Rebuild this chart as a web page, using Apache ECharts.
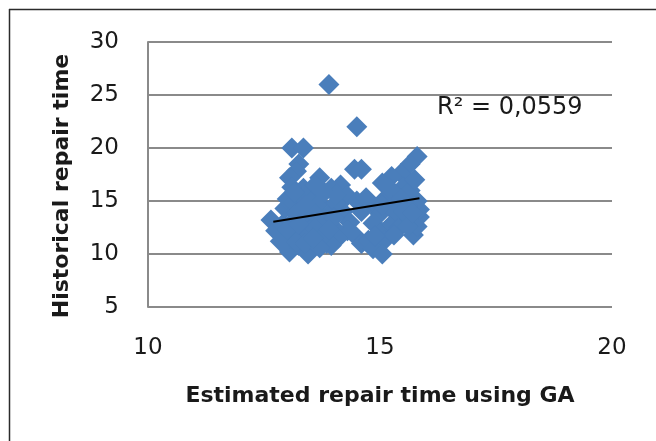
<!DOCTYPE html>
<html>
<head>
<meta charset="utf-8">
<script src="https://cdn.jsdelivr.net/npm/echarts@6/dist/echarts.min.js"></script>
<style>
html,body{margin:0;padding:0;background:#fff;}
#chart{width:656px;height:441px;}
</style>
</head>
<body>
<div id="chart"></div>
<script>
// Estimated repair time using GA (x) vs Historical repair time (y)
const xValues = [13.9,14.5,13.1,13.35,13.25,13.2,13.05,13.7,14.45,14.6,
  15.8,15.65,15.45,15.25,15.05,15.5,15.3,15.1,14.9,15.0,
  15.35,15.2,14.85,15.0,15.1,15.72,15.8,15.85,15.85,15.8,
  15.6,15.55,15.4,15.65,15.75,14.15,14.3,14.2,14.35,14.3,
  14.45,14.6,14.75,14.85,15.05,14.5,14.6,12.65,12.75,12.85,
  12.9,12.95,13.0,13.05,13.05,13.1,13.15,13.2,13.25,13.3,
  13.35,13.45,13.45,13.5,13.55,13.6,13.65,13.7,13.75,13.8,
  13.85,13.9,13.95,14.0,14.05,13.35,13.1,13.6,14.1,13.95,
  13.2,13.4,13.6,13.8,13.4,13.6,13.8,14.0,13.2,13.0,
  13.4,13.7,13.25,13.55,13.9,14.05,13.75,13.15,15.2,15.45,
  15.05,14.7,15.5,15.3,14.9,15.6,15.7,15.2];
const yValues = [26,22,20,20,18.5,17.8,17.2,17.2,18,18,
  19.2,18.5,17.6,17.3,16.7,16.3,15.8,15.2,14.4,13.8,
  13.8,12.6,12.9,12.0,11.3,11.8,12.6,13.5,14.2,15.0,
  14.5,13.2,12.4,16.0,17.0,16.5,15.5,14.0,13.0,12.2,
  11.8,11.0,11.3,10.5,10.0,15.0,14.0,13.2,12.2,11.2,
  12.8,14.3,15.2,10.2,11.5,13.0,14.8,12.0,10.8,15.5,
  13.5,10.0,12.5,14.2,15.6,11.2,13.0,14.8,12.0,15.8,
  11.0,13.8,16.2,12.5,14.8,16.2,16.3,16.5,11.5,10.8,
  13.8,14.6,13.8,13.3,11.8,12.4,11.8,13.4,11.2,12.3,
  11.0,10.6,12.8,11.5,12.3,15.6,16.0,15.8,14.5,15.2,
  14.6,15.3,14.0,11.8,11.7,12.6,13.8,16.2];
const trendX = [12.7, 15.85];
const trendY = [13.05, 15.25];
const xTickLabels = [10, 15, 20];
const yTickLabels = [5, 10, 15, 20, 25, 30];
const rSquaredText = 'R² = 0,0559';
const xTitle = 'Estimated repair time using GA';
const yTitle = 'Historical repair time';

const points = xValues.map((x, i) => [x, yValues[i]]);
const trend = trendX.map((x, i) => [x, trendY[i]]);

const chart = echarts.init(document.getElementById('chart'));
const FONT = 'DejaVu Sans';
chart.setOption({
  animation: false,
  backgroundColor: '#ffffff',
  textStyle: { fontFamily: FONT },
  grid: { left: 148, right: 44, top: 42, bottom: 134, containLabel: false },
  xAxis: {
    type: 'value',
    min: xTickLabels[0],
    max: xTickLabels[xTickLabels.length - 1],
    interval: xTickLabels[1] - xTickLabels[0],
    axisLine: { show: false },
    axisTick: { show: false },
    splitLine: { show: false },
    axisLabel: { color: '#1a1a1a', fontSize: 23, fontFamily: FONT, margin: 30 },
    name: xTitle,
    nameLocation: 'middle',
    nameGap: 78,
    nameTextStyle: { color: '#1a1a1a', fontSize: 22, fontWeight: 'bold', fontFamily: FONT }
  },
  yAxis: {
    type: 'value',
    min: yTickLabels[0],
    max: yTickLabels[yTickLabels.length - 1],
    interval: yTickLabels[1] - yTickLabels[0],
    axisLine: { show: true, lineStyle: { color: '#8a8a8a', width: 2 } },
    axisTick: { show: false },
    splitLine: { show: true, lineStyle: { color: '#8a8a8a', width: 2 } },
    axisLabel: { color: '#1a1a1a', fontSize: 23, fontFamily: FONT, margin: 29 }
  },
  graphic: [
    { type: 'line', shape: { x1: 9, y1: 9.5, x2: 656, y2: 9.5 }, style: { stroke: '#2b2b2b', lineWidth: 1.5 }, z: 100 },
    { type: 'line', shape: { x1: 9.5, y1: 9, x2: 9.5, y2: 441 }, style: { stroke: '#2b2b2b', lineWidth: 1.5 }, z: 100 },
    { type: 'text', x: 62, y: 186, rotation: Math.PI / 2,
      style: { text: yTitle, font: 'bold 22px "DejaVu Sans"', fill: '#1a1a1a', textAlign: 'center', textVerticalAlign: 'middle', align: 'center', verticalAlign: 'middle' }, z: 100 },
    { type: 'text', x: 437, y: 108,
      style: { text: rSquaredText, font: '24px "DejaVu Sans"', fill: '#1a1a1a', textAlign: 'left', textVerticalAlign: 'middle', align: 'left', verticalAlign: 'middle' }, z: 100 }
  ],
  series: [
    {
      type: 'scatter',
      data: points,
      symbol: 'diamond',
      symbolSize: 21,
      itemStyle: { color: '#4a7ebb', opacity: 1, borderWidth: 0 },
      emphasis: { disabled: true },
      z: 2
    },
    {
      type: 'line',
      data: trend,
      symbol: 'none',
      lineStyle: { color: '#000000', width: 2 },
      emphasis: { disabled: true },
      z: 3
    }
  ]
});
</script>
</body>
</html>
